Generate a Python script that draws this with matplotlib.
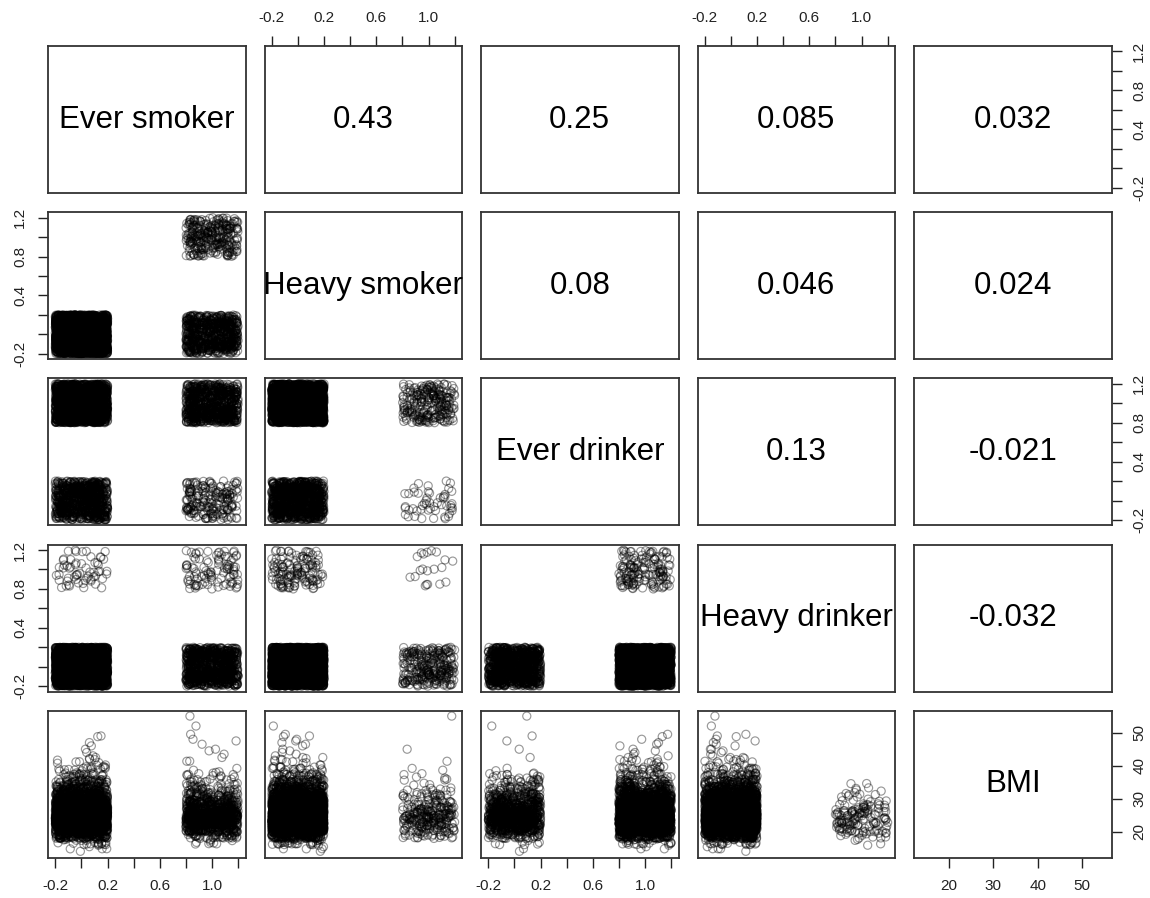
import numpy as np
import matplotlib
matplotlib.use("Agg")
import matplotlib.pyplot as plt

plt.rcParams['font.family'] = ['Liberation Sans', 'DejaVu Sans']

# ---------------- data ----------------
var_names = ["Ever smoker", "Heavy smoker", "Ever drinker", "Heavy drinker", "BMI"]

# combinations of the binary variables and how many people (BMI in the bulk range) have them
combo_es = [0, 0, 0, 1, 1, 1, 1, 1, 1]
combo_hs = [0, 0, 0, 0, 0, 0, 1, 1, 1]
combo_ed = [0, 1, 1, 0, 1, 1, 0, 1, 1]
combo_hd = [0, 0, 1, 0, 0, 1, 0, 0, 1]
combo_n = [850, 2100, 60, 150, 500, 80, 50, 230, 20]

# BMI histogram (2-unit bins) for the bulk of people
bmi_bin_low = [14, 16, 18, 20, 22, 24, 26, 28, 30, 32, 34, 36, 38, 40]
bmi_counts_not_heavy_drinker = [5, 30, 200, 500, 825, 825, 555, 400, 250, 140, 80, 40, 20, 10]
bmi_counts_heavy_drinker = [0, 4, 14, 28, 32, 30, 24, 14, 8, 4, 2, 0, 0, 0]

# individual high-BMI people
out_es = [1, 1, 0, 0, 1, 1, 1, 0, 1, 0, 1, 0, 1, 0, 1, 0, 0, 1, 0, 0]
out_hs = [1, 0, 0, 0, 0, 0, 0, 0, 0, 0, 1, 0, 0, 0, 0, 0, 0, 0, 0, 0]
out_ed = [0, 0, 0, 1, 1, 1, 0, 1, 1, 1, 1, 0, 1, 1, 1, 1, 0, 1, 1, 1]
out_hd = [0, 0, 0, 0, 0, 0, 0, 0, 0, 0, 0, 0, 0, 0, 0, 0, 0, 0, 0, 0]
out_bmi = [55.0, 52.0, 49.0, 48.8, 49.5, 48.0, 47.5, 47.0, 46.5, 46.0,
           45.0, 45.0, 44.5, 44.0, 43.5, 43.0, 42.5, 42.5, 42.2, 42.0]

# correlations shown in the upper panels (row, col, value)
corr_row = [0, 0, 0, 0, 1, 1, 1, 2, 2, 3]
corr_col = [1, 2, 3, 4, 2, 3, 4, 3, 4, 4]
corr_val = [0.43, 0.25, 0.085, 0.032, 0.08, 0.046, 0.024, 0.13, -0.021, -0.032]

bin_ticks = [-0.2, 0.0, 0.2, 0.4, 0.6, 0.8, 1.0, 1.2]
bin_xlabels = ["-0.2", "", "0.2", "", "0.6", "", "1.0", ""]
bin_ylabels = ["-0.2", "", "", "0.4", "", "0.8", "", "1.2"]
bmi_ticks = [20, 30, 40, 50]
bmi_labels = ["20", "30", "40", "50"]


# ---------------- helpers ----------------
MASK = np.uint64(0xFFFFFFFF)


def hash01(n, salt):
    # deterministic integer hash in [0, 1): stand-in for R's jitter()
    x = (np.asarray(n, dtype=np.uint64) * np.uint64(0x9E3779B1) + np.uint64(salt)) & MASK
    x ^= x >> np.uint64(16)
    x = (x * np.uint64(0x85EBCA6B)) & MASK
    x ^= x >> np.uint64(13)
    x = (x * np.uint64(0xC2B2AE35)) & MASK
    x ^= x >> np.uint64(16)
    return x.astype(np.float64) / 4294967296.0


es = np.repeat(combo_es, combo_n)
hs = np.repeat(combo_hs, combo_n)
ed = np.repeat(combo_ed, combo_n)
hd = np.repeat(combo_hd, combo_n)
bmi = np.zeros(len(es))

for flag, counts in [(0, bmi_counts_not_heavy_drinker), (1, bmi_counts_heavy_drinker)]:
    vals = np.concatenate([lo + 2.0 * hash01(np.arange(c) + 100 * lo, 17 + flag)
                           for lo, c in zip(bmi_bin_low, counts) if c > 0])
    idx = np.where(hd == flag)[0]
    order = np.argsort(hash01(np.arange(len(idx)), 91 + flag), kind="stable")
    bmi[idx[order]] = vals

es = np.concatenate([es, out_es])
hs = np.concatenate([hs, out_hs])
ed = np.concatenate([ed, out_ed])
hd = np.concatenate([hd, out_hd])
bmi = np.concatenate([bmi, out_bmi])
N = len(es)

k = np.arange(N)
cols = [es + (hash01(k, 1001) - 0.5) * 0.4,
        hs + (hash01(k, 2002) - 0.5) * 0.4,
        ed + (hash01(k, 3003) - 0.5) * 0.4,
        hd + (hash01(k, 4004) - 0.5) * 0.4,
        bmi]

is_bmi = [False, False, False, False, True]
bin_lim = (-0.256, 1.256)
bmi_lim = (12.2, 56.6)

# ---------------- figure ----------------
W, H = 1150, 898
fig = plt.figure(figsize=(W / 100, H / 100), dpi=100)

left0, pitch_x, pw = 48, 216.5, 197.5
top0, pitch_y, ph = 46, 166.2, 147

tick_kw = dict(length=7, width=1.0, pad=8, labelsize=11, colors='#222222')
frame_col = '#333333'

axes = {}
for i in range(5):
    for j in range(5):
        x0 = left0 + j * pitch_x
        y0 = top0 + i * pitch_y
        ax = fig.add_axes([x0 / W, 1 - (y0 + ph) / H, pw / W, ph / H])
        axes[(i, j)] = ax
        ax.set_xlim(bmi_lim if is_bmi[j] else bin_lim)
        ax.set_ylim(bmi_lim if is_bmi[i] else bin_lim)
        for s in ax.spines.values():
            s.set_linewidth(1.3)
            s.set_color(frame_col)
        ax.tick_params(axis='both', which='both', bottom=False, top=False, left=False, right=False,
                       labelbottom=False, labeltop=False, labelleft=False, labelright=False)

        if i > j:
            ax.scatter(cols[j], cols[i], s=34, facecolors='none',
                       edgecolors=(0, 0, 0, 0.4), linewidths=0.85)
        elif i == j:
            ax.text(0.5, 0.5, var_names[i], transform=ax.transAxes, ha='center', va='center',
                    fontsize=22.5, color='black')

        # x axis
        show_top = (i == 0 and j % 2 == 1)
        show_bot = (i == 4 and j % 2 == 0)
        if show_top or show_bot:
            ax.set_xticks(bmi_ticks if is_bmi[j] else bin_ticks)
            ax.set_xticklabels(bmi_labels if is_bmi[j] else bin_xlabels)
            ax.tick_params(axis='x', top=show_top, labeltop=show_top,
                           bottom=show_bot, labelbottom=show_bot, **tick_kw)
        # y axis
        show_left = (j == 0 and i % 2 == 1)
        show_right = (j == 4 and i % 2 == 0)
        if show_left or show_right:
            ax.set_yticks(bmi_ticks if is_bmi[i] else bin_ticks)
            ax.set_yticklabels(bmi_labels if is_bmi[i] else bin_ylabels)
            ax.tick_params(axis='y', left=show_left, labelleft=show_left,
                           right=show_right, labelright=show_right,
                           labelrotation=90, **tick_kw)
            for lbl in ax.get_yticklabels():
                lbl.set_va('center')

for r, c, v in zip(corr_row, corr_col, corr_val):
    axes[(r, c)].text(0.5, 0.5, f"{v:g}", transform=axes[(r, c)].transAxes,
                      ha='center', va='center', fontsize=22.5, color='black')

fig.savefig("out.png", dpi=100)
